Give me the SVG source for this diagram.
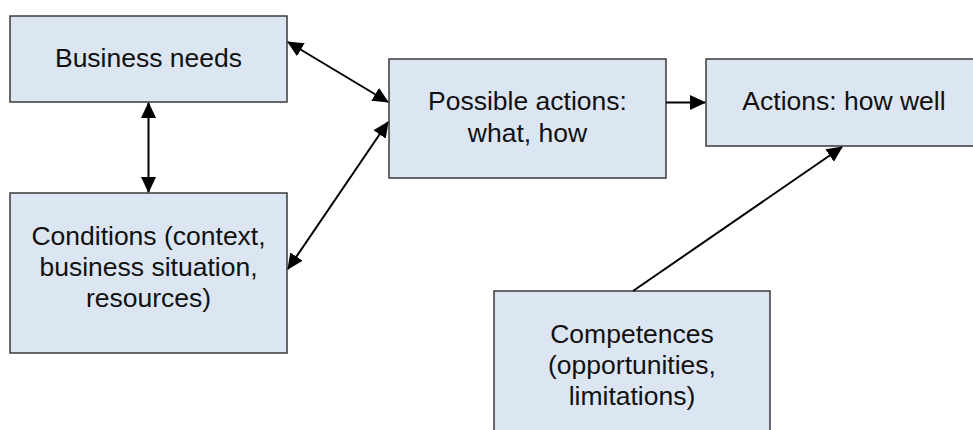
<svg xmlns="http://www.w3.org/2000/svg" width="973" height="430" viewBox="0 0 973 430">
  <style>
    .box { fill: #dce6f2; stroke: #3a3a3a; stroke-width: 1.5; }
    .label { font-family: "Liberation Sans", Arial, sans-serif; font-size: 26.5px; fill: #111; text-anchor: middle; }
    .conn { stroke: #000; stroke-width: 2; fill: none; }
  </style>
  <defs>
    <marker id="arrow" viewBox="0 0 16 16" refX="15" refY="8" markerWidth="16" markerHeight="16" markerUnits="userSpaceOnUse" orient="auto-start-reverse">
      <path d="M0,0.5 L16,8 L0,15.5 z" fill="#000"/>
    </marker>
  </defs>
  <rect width="973" height="430" fill="#fff"/>

  <g id="business-needs">
    <rect class="box" x="10" y="16" width="277" height="86"/>
    <text class="label" x="148.5" y="67">Business needs</text>
  </g>

  <g id="conditions">
    <rect class="box" x="10" y="193" width="277" height="160"/>
    <text class="label" x="148.5" y="245">Conditions (context,</text>
    <text class="label" x="148.5" y="276">business situation,</text>
    <text class="label" x="148.5" y="307">resources)</text>
  </g>

  <g id="possible-actions">
    <rect class="box" x="389" y="59" width="277" height="119"/>
    <text class="label" x="527.5" y="110">Possible actions:</text>
    <text class="label" x="527.5" y="142">what, how</text>
  </g>

  <g id="actions-how-well">
    <rect class="box" x="706" y="59" width="276" height="87"/>
    <text class="label" x="844" y="110">Actions: how well</text>
  </g>

  <g id="competences">
    <rect class="box" x="494" y="291" width="276" height="150"/>
    <text class="label" x="632" y="343">Competences</text>
    <text class="label" x="632" y="374">(opportunities,</text>
    <text class="label" x="632" y="405">limitations)</text>
  </g>

  <g id="connectors">
    <line class="conn" x1="148.5" y1="103" x2="148.5" y2="192" marker-start="url(#arrow)" marker-end="url(#arrow)"/>
    <line class="conn" x1="288" y1="42" x2="388" y2="102" marker-start="url(#arrow)" marker-end="url(#arrow)"/>
    <line class="conn" x1="288" y1="269" x2="388" y2="122" marker-start="url(#arrow)" marker-end="url(#arrow)"/>
    <line class="conn" x1="666" y1="102.5" x2="705" y2="102.5" marker-end="url(#arrow)"/>
    <line class="conn" x1="633" y1="291" x2="842" y2="147" marker-end="url(#arrow)"/>
  </g>
</svg>
